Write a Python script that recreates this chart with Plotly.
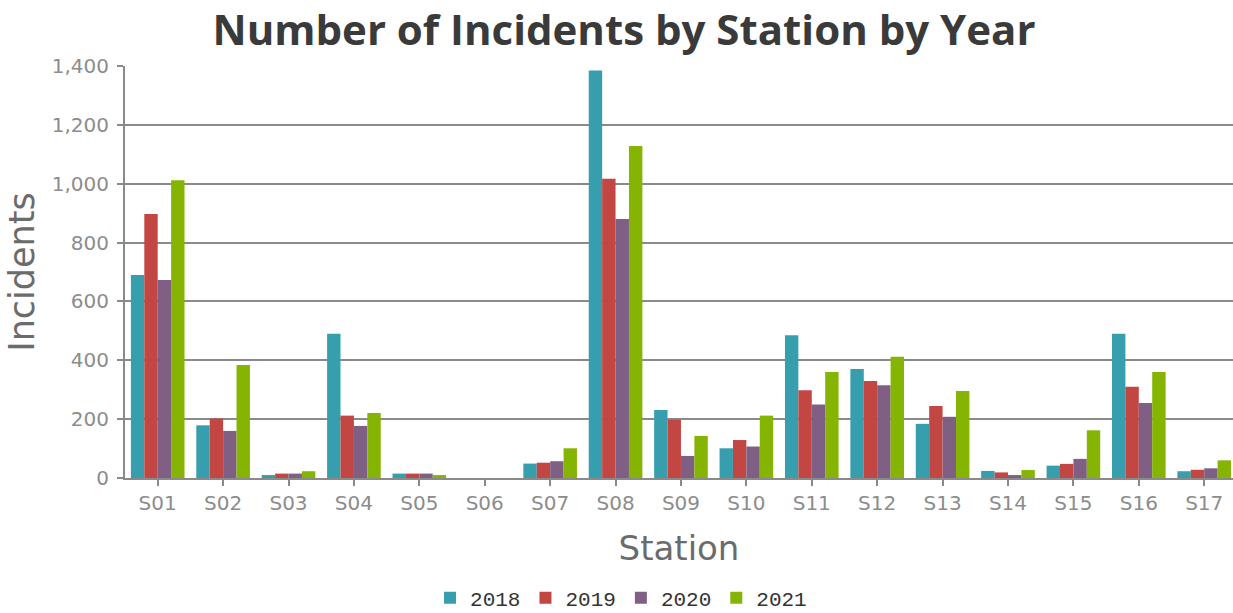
import plotly.graph_objects as go

# Incident counts per station, one list per year
stations = ["S01", "S02", "S03", "S04", "S05", "S06", "S07", "S08", "S09",
            "S10", "S11", "S12", "S13", "S14", "S15", "S16", "S17"]
years = ["2018", "2019", "2020", "2021"]

incidents_2018 = [690, 179, 10, 490, 15, 0, 49, 1385, 231, 101, 485, 370, 184, 24, 42, 490, 23]
incidents_2019 = [897, 202, 15, 212, 15, 0, 52, 1017, 198, 129, 298, 330, 245, 19, 48, 310, 28]
incidents_2020 = [673, 160, 15, 177, 15, 0, 57, 880, 75, 107, 250, 315, 208, 10, 65, 255, 33]
incidents_2021 = [1012, 384, 23, 221, 10, 0, 101, 1128, 143, 212, 360, 412, 296, 27, 162, 360, 60]

y_ticks = [0, 200, 400, 600, 800, 1000, 1200, 1400]

series = [incidents_2018, incidents_2019, incidents_2020, incidents_2021]
colors = ["#369EAD", "#C24642", "#7F6084", "#86B402"]

grid = "#8a8a8a"

fig = go.Figure()
for year, values, color in zip(years, series, colors):
    fig.add_trace(go.Bar(
        name=year,
        x=stations,
        y=values,
        marker=dict(color=color, line=dict(width=0)),
    ))

fig.update_layout(
    width=1233,
    height=613,
    autosize=False,
    margin=dict(l=125, r=0, t=66, b=135),
    paper_bgcolor="white",
    plot_bgcolor="white",
    barmode="group",
    bargap=0.18,
    bargroupgap=0,
    title=dict(
        text="<b>Number of Incidents by Station by Year</b>",
        font=dict(family="Open Sans", size=42, color="#3a3a3a"),
        x=624 / 1233,
        xanchor="center",
        y=1 - 30 / 613,
        yanchor="middle",
    ),
    xaxis=dict(
        type="category",
        range=[-0.5, 16.44],
        showgrid=False,
        showline=True,
        linecolor=grid,
        linewidth=2,
        ticks="outside",
        ticklen=6,
        tickwidth=2,
        tickcolor=grid,
        tickfont=dict(family="DejaVu Sans", size=20, color="#8c8c8c"),
        title=dict(text="Station", standoff=22,
                   font=dict(family="DejaVu Sans", size=34, color="#6b6b6b")),
    ),
    yaxis=dict(
        range=[0, 1400],
        tickvals=y_ticks,
        tickformat=",d",
        showgrid=True,
        gridcolor=grid,
        gridwidth=2,
        zeroline=False,
        showline=True,
        linecolor=grid,
        linewidth=2,
        ticks="outside",
        ticklen=6,
        tickwidth=2,
        tickcolor=grid,
        ticklabelstandoff=4,
        tickfont=dict(family="DejaVu Sans", size=20, color="#8c8c8c"),
        title=dict(text="Incidents", standoff=6,
                   font=dict(family="DejaVu Sans", size=35, color="#6b6b6b")),
    ),
    legend=dict(
        orientation="h",
        x=552 / 1233,
        xanchor="center",
        y=1 - 598 / 613,
        yanchor="middle",
        yref="container",
        font=dict(family="Liberation Mono", size=21, color="#333333"),
        itemwidth=30,
        tracegroupgap=0,
    ),
)

fig.write_html("out.html")
